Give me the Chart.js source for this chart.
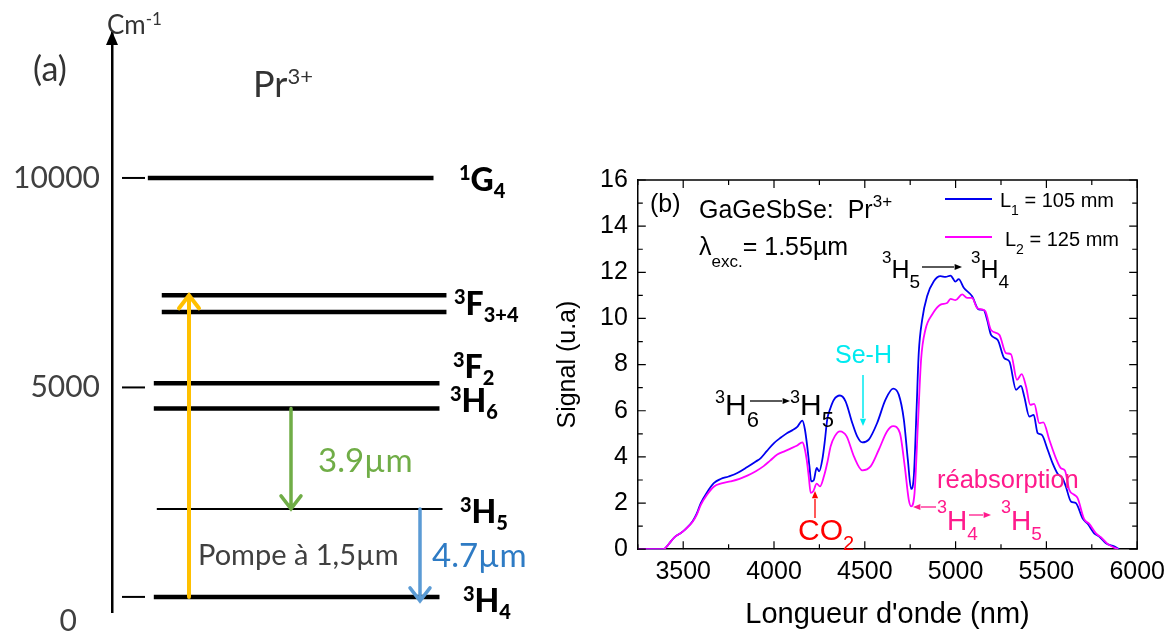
<!DOCTYPE html>
<html>
<head>
<meta charset="utf-8">
<script src="https://cdn.jsdelivr.net/npm/chart.js@4.4.0/dist/chart.umd.min.js"></script>
<style>
  html, body { margin: 0; padding: 0; background: #fff; }
  body { width: 1173px; height: 635px; position: relative; overflow: hidden; }
  #levels-box { position: absolute; left: 0; top: 0; width: 545px; height: 635px; }
  #spectrum-box { position: absolute; left: 545px; top: 0; width: 628px; height: 635px; }
</style>
</head>
<body>
<div id="levels-box"><canvas id="levels-chart"></canvas></div>
<div id="spectrum-box"><canvas id="spectrum-chart"></canvas></div>
<script>
// ---- (a) Pr3+ energy levels, cm-1
const levelNames = ['3H4', '3H5', '3H6', '3F2', '3F3', '3F4', '1G4']
const levelEnergy = [0, 2100, 4500, 5100, 6800, 7200, 10000]
const energyTicks = [0, 5000, 10000]
// pump 3H4 -> 3F3+4, 3H6 -> 3H5, 3H5 -> 3H4
const transFrom = [0, 4500, 2100]
const transTo = [7200, 2100, 0]
const transLabels = ['Pompe à 1,5µm', '3.9µm', '4.7µm']

// ---- (b) emission spectra, wavelength in nm / signal in u.a
const seriesLabels = ['L1 = 105 mm', 'L2 = 125 mm']
const wlL1 = [
    3250, 3390, 3410, 3430, 3450, 3470, 3487, 3510, 3551, 3575,
    3597, 3630, 3670, 3706, 3750, 3798, 3853, 3900, 3927, 3960,
    4000, 4040, 4073, 4100, 4128, 4156, 4170, 4183, 4195, 4205,
    4212, 4220, 4235, 4249, 4266, 4280, 4293, 4310, 4330, 4363,
    4394, 4431, 4458, 4486, 4522, 4568, 4614, 4656, 4687, 4715,
    4737, 4755, 4770, 4785, 4797, 4816, 4843, 4880, 4917, 4945,
    4972, 4999, 5017, 5045, 5091, 5127, 5155, 5175, 5195, 5232,
    5268, 5296, 5333, 5360, 5378, 5406, 5430, 5452, 5474, 5507,
    5534, 5562, 5589, 5607, 5635, 5662, 5699, 5727, 5763, 5791,
    5828, 5873, 5901
]
const sigL1 = [
    0, 0, 0.12, 0.32, 0.5, 0.62, 0.7, 0.85, 1.2, 1.55,
    2.0, 2.45, 2.87, 3.04, 3.15, 3.3, 3.56, 3.8, 3.95, 4.25,
    4.6, 4.85, 5.04, 5.15, 5.3, 5.57, 5.2, 4.46, 3.6, 2.94,
    2.95, 3.01, 3.52, 3.37, 3.88, 4.7, 5.62, 6.1, 6.48, 6.66,
    6.41, 5.47, 4.89, 4.63, 4.75, 5.47, 6.48, 6.96, 6.7, 5.62,
    3.88, 2.61, 3.16, 6.05, 8.5, 9.95, 10.96, 11.61, 11.83, 11.8,
    11.86, 11.6, 11.7, 11.33, 10.96, 10.39, 10.36, 9.9, 9.29, 9.07,
    8.28, 8.14, 6.91, 7.08, 6.62, 5.75, 5.82, 5.03, 4.96, 4.31,
    3.73, 3.27, 3.08, 2.72, 2.07, 2.0, 1.34, 1.1, 0.69, 0.55,
    0.26, 0.12, 0
]
const wlL2 = [
    3250, 3390, 3410, 3430, 3450, 3470, 3487, 3510, 3551, 3575,
    3597, 3630, 3670, 3710, 3761, 3810, 3853, 3900, 3943, 3980,
    4018, 4060, 4091, 4125, 4156, 4168, 4180, 4192, 4202, 4216,
    4235, 4253, 4275, 4295, 4312, 4335, 4363, 4400, 4440, 4486,
    4532, 4577, 4623, 4656, 4693, 4720, 4742, 4755, 4774, 4792,
    4810, 4834, 4871, 4917, 4953, 4972, 4999, 5036, 5063, 5091,
    5118, 5146, 5164, 5195, 5241, 5277, 5305, 5338, 5364, 5388,
    5411, 5433, 5461, 5483, 5516, 5552, 5580, 5602, 5626, 5653,
    5672, 5708, 5736, 5773, 5800, 5837, 5870, 5895
]
const sigL2 = [
    0, 0, 0.12, 0.32, 0.5, 0.62, 0.7, 0.85, 1.18, 1.5,
    1.92, 2.35, 2.72, 2.85, 2.94, 3.05, 3.19, 3.38, 3.6, 3.85,
    4.1, 4.25, 4.36, 4.48, 4.63, 4.4, 3.88, 3.1, 2.44, 2.51,
    2.84, 2.72, 3.16, 3.8, 4.46, 4.9, 5.11, 4.89, 4.02, 3.42,
    3.59, 4.31, 5.11, 5.33, 5.04, 3.59, 2.15, 1.86, 2.44, 5.33,
    8.22, 9.52, 10.17, 10.6, 10.67, 10.85, 10.79, 11.04, 10.89, 10.89,
    10.46, 10.39, 10.31, 9.5, 9.29, 8.5, 8.45, 7.34, 7.59, 7.05,
    6.26, 6.3, 5.46, 5.5, 4.74, 3.95, 3.51, 3.41, 2.57, 2.36,
    2.21, 1.3, 1.1, 0.69, 0.52, 0.23, 0.08, 0
]
const wlTicks = [3500, 4000, 4500, 5000, 5500, 6000]
const sigTicks = [0, 2, 4, 6, 8, 10, 12, 14, 16]

// ---------- drawing helpers
function drawRich(ctx, x, y, parts, f) {
    // parts: [text, 'sup' | 'sub' | undefined]
    ctx.textAlign = 'left'
    ctx.textBaseline = 'alphabetic'
    parts.forEach(([t, kind]) => {
        const size = kind === 'sup' ? f.sup : kind === 'sub' ? f.sub : f.size
        ctx.font = (f.weight || 'normal') + ' ' + size + 'px ' + f.family
        const dy = kind === 'sup' ? -f.raise : kind === 'sub' ? f.drop : 0
        ctx.fillText(t, x, y + dy)
        x += ctx.measureText(t).width
    })
    return x
}

function arrowFilled(ctx, x1, y1, x2, y2, color, w, head) {
    const a = Math.atan2(y2 - y1, x2 - x1)
    ctx.strokeStyle = color
    ctx.fillStyle = color
    ctx.lineWidth = w
    ctx.beginPath()
    ctx.moveTo(x1, y1)
    ctx.lineTo(x2 - Math.cos(a) * head, y2 - Math.sin(a) * head)
    ctx.stroke()
    ctx.beginPath()
    ctx.moveTo(x2, y2)
    ctx.lineTo(x2 - head * Math.cos(a - 0.4), y2 - head * Math.sin(a - 0.4))
    ctx.lineTo(x2 - head * Math.cos(a + 0.4), y2 - head * Math.sin(a + 0.4))
    ctx.closePath()
    ctx.fill()
}

function arrowOpen(ctx, x, y1, y2, color, w) {
    const dir = y2 < y1 ? 1 : -1
    ctx.strokeStyle = color
    ctx.lineWidth = w
    ctx.lineCap = 'round'
    ctx.beginPath()
    ctx.moveTo(x, y1)
    ctx.lineTo(x, y2)
    ctx.moveTo(x - 10, y2 + dir * 13)
    ctx.lineTo(x, y2)
    ctx.lineTo(x + 10, y2 + dir * 13)
    ctx.stroke()
    ctx.lineCap = 'butt'
}

// ---------- panel (a)
const LEVEL_X = [[152, 439], [155, 442], [152, 439], [152, 439], [160, 446], [160, 446], [146, 433]]
const LEVEL_W = [4.5, 2, 4.5, 4.5, 4.5, 4.5, 4.5]
const TRANS_COLORS = ['#ffc000', '#70ad47', '#5b9bd5']
const TRANS_X = [189, 291, 420]
const LEVEL_LABELS = [
    { lvl: 6, x: 459, dy: 13, parts: [['1', 'sup'], ['G'], ['4', 'sub']] },
    { lvl: 4, x: 454, dy: 3, parts: [['3', 'sup'], ['F'], ['3+4', 'sub']] },
    { lvl: 3, x: 453, dy: -5, parts: [['3', 'sup'], ['F'], ['2', 'sub']] },
    { lvl: 2, x: 450, dy: 4, parts: [['3', 'sup'], ['H'], ['6', 'sub']] },
    { lvl: 1, x: 460, dy: 14, parts: [['3', 'sup'], ['H'], ['5', 'sub']] },
    { lvl: 0, x: 463, dy: 15, parts: [['3', 'sup'], ['H'], ['4', 'sub']] }
]
const LEVEL_FONT = { family: 'Lato', weight: '900', size: 32, sup: 20, sub: 20, raise: 11, drop: 7 }

const levelsPlugin = {
    id: 'levelsDecor',
    afterDatasetsDraw(chart) {
        const ctx = chart.ctx
        const y = chart.scales.y
        const area = chart.chartArea
        ctx.save()

        // arrow head of the energy axis
        ctx.strokeStyle = '#000'
        ctx.fillStyle = '#000'
        ctx.beginPath()
        ctx.moveTo(area.left, area.top - 2)
        ctx.lineTo(area.left - 6, area.top + 12)
        ctx.lineTo(area.left + 6, area.top + 12)
        ctx.closePath()
        ctx.fill()

        // small dashes next to the axis
        ctx.lineWidth = 2
        energyTicks.forEach(v => {
            const py = y.getPixelForValue(v)
            ctx.beginPath()
            ctx.moveTo(area.left + 10, py)
            ctx.lineTo(area.left + 33, py)
            ctx.stroke()
        })

        // transitions
        transFrom.forEach((e, i) => {
            const y1 = y.getPixelForValue(e)
            let y2 = y.getPixelForValue(transTo[i])
            if (transTo[i] === 0) y2 += 4
            arrowOpen(ctx, TRANS_X[i], y1, y2, TRANS_COLORS[i], i === 0 ? 4 : 3.5)
        })

        // level names
        ctx.fillStyle = '#000'
        LEVEL_LABELS.forEach(l => {
            drawRich(ctx, l.x, y.getPixelForValue(levelEnergy[l.lvl]) + l.dy, l.parts, LEVEL_FONT)
        })

        // transition texts
        ctx.textBaseline = 'middle'
        ctx.textAlign = 'left'
        ctx.fillStyle = '#404040'
        ctx.font = '29px Lato'
        ctx.fillText(transLabels[0], 198, 556)
        ctx.font = '33px Lato'
        ctx.fillStyle = '#70ad47'
        ctx.fillText(transLabels[1], 318, 461)
        ctx.fillStyle = '#2e7bc4'
        ctx.fillText(transLabels[2], 432, 556)

        // titles
        ctx.fillStyle = '#333'
        ctx.font = '34px Lato'
        ctx.fillText('(a)', 33, 70)
        drawRich(ctx, 253, 97, [['Pr'], ['3+', 'sup']], { family: 'Lato', size: 36, sup: 22, raise: 13 })
        drawRich(ctx, 107, 34, [['Cm'], ['-1', 'sup']], { family: 'Lato', size: 26, sup: 17, raise: 9 })
        ctx.restore()
    }
}

new Chart(document.getElementById('levels-chart'), {
    type: 'line',
    data: {
        datasets: levelNames.map((name, i) => ({
            label: name,
            data: [
                { x: LEVEL_X[i][0], y: levelEnergy[i] },
                { x: LEVEL_X[i][1], y: levelEnergy[i] }
            ],
            borderColor: '#000',
            borderWidth: LEVEL_W[i],
            pointRadius: 0
        }))
    },
    options: {
        animation: false,
        responsive: true,
        maintainAspectRatio: false,
        devicePixelRatio: 1,
        events: [],
        layout: { padding: { left: 1, right: 0, top: 33, bottom: 23 } },
        scales: {
            x: { type: 'linear', display: false, min: 110, max: 545 },
            y: {
                type: 'linear',
                min: -360,
                max: 13460,
                afterBuildTicks: scale => { scale.ticks = energyTicks.map(v => ({ value: v })) },
                afterFit: scale => { scale.paddingTop = 0; scale.paddingBottom = 0 },
                grid: { display: false, drawTicks: false },
                border: { display: true, color: '#000', width: 2.5 },
                ticks: {
                    padding: 12,
                    color: '#404040',
                    font: { family: 'Lato', size: 30, lineHeight: 1.6 },
                    callback: v => v === 0 ? ['', '0   '] : String(v)
                }
            }
        },
        plugins: { legend: { display: false }, tooltip: { enabled: false } }
    },
    plugins: [levelsPlugin]
});

// ---------- panel (b)
const SERIES_COLORS = ['#0000f0', '#ff00ff']
const F25 = { family: 'Liberation Sans', size: 25, sup: 17, sub: 19, raise: 15, drop: 10 }
const F30 = { family: 'Liberation Sans', size: 30, sup: 18, sub: 22, raise: 12, drop: 12 }
const F28 = { family: 'Liberation Sans', size: 28, sup: 18, sub: 19, raise: 17, drop: 10 }
const PINK = '#ff1a8c'

const spectrumPlugin = {
    id: 'spectrumDecor',
    afterDraw(chart) {
        const ctx = chart.ctx
        const { x, y } = chart.scales
        const a = chart.chartArea
        ctx.save()

        // frame on top/right + inward ticks on all sides
        ctx.strokeStyle = '#000'
        ctx.lineWidth = 1.5
        ctx.beginPath()
        ctx.moveTo(a.left, a.top)
        ctx.lineTo(a.right, a.top)
        ctx.lineTo(a.right, a.bottom)
        ctx.stroke()
        ctx.lineWidth = 1.2
        for (let v = 3250; v <= 6000; v += 250) {
            const px = x.getPixelForValue(v)
            const len = v % 500 === 0 ? 8 : 5
            ctx.beginPath()
            ctx.moveTo(px, a.bottom); ctx.lineTo(px, a.bottom - len)
            ctx.moveTo(px, a.top); ctx.lineTo(px, a.top + len)
            ctx.stroke()
        }
        for (let v = 0; v <= 16; v += 1) {
            const py = y.getPixelForValue(v)
            const len = v % 2 === 0 ? 8 : 5
            ctx.beginPath()
            ctx.moveTo(a.left, py); ctx.lineTo(a.left + len, py)
            ctx.moveTo(a.right, py); ctx.lineTo(a.right - len, py)
            ctx.stroke()
        }

        // from here on: page coordinates
        ctx.translate(-545, 0)
        ctx.fillStyle = '#000'
        drawRich(ctx, 650, 212, [['(b)']], F25)
        drawRich(ctx, 699, 218, [['GaGeSbSe:  Pr'], ['3+', 'sup']], { family: 'Liberation Sans', size: 25, sup: 17, raise: 11 })
        drawRich(ctx, 699, 255, [['λ'], ['exc.', 'sub'], ['= 1.55µm']], { family: 'Liberation Sans', size: 25, sub: 17, drop: 12 })

        // legend
        const legY = [199, 237]
        const legTx = [1000, 1005]
        const legBase = [207, 246]
        seriesLabels.forEach((lab, i) => {
            ctx.strokeStyle = SERIES_COLORS[i]
            ctx.lineWidth = 2
            ctx.beginPath()
            ctx.moveTo(945, legY[i]); ctx.lineTo(992, legY[i])
            ctx.stroke()
            ctx.fillStyle = '#000'
            drawRich(ctx, legTx[i], legBase[i], [[lab[0]], [lab[1], 'sub'], [lab.slice(2)]],
                { family: 'Liberation Sans', size: 20, sub: 14, drop: 8 })
        })

        // transitions
        ctx.fillStyle = '#000'
        drawRich(ctx, 882, 278, [['3', 'sup'], ['H'], ['5', 'sub']], F25)
        arrowFilled(ctx, 922, 267, 962, 267, '#000', 1.3, 8)
        ctx.fillStyle = '#000'
        drawRich(ctx, 971, 278, [['3', 'sup'], ['H'], ['4', 'sub']], F25)

        drawRich(ctx, 715, 415, [['3', 'sup'], ['H'], ['6', 'sub']], F30)
        arrowFilled(ctx, 750, 401, 790, 401, '#000', 1.3, 8)
        ctx.fillStyle = '#000'
        drawRich(ctx, 790, 415, [['3', 'sup'], ['H'], ['5', 'sub']], F30)

        // Se-H
        ctx.fillStyle = '#00eaf0'
        drawRich(ctx, 835, 363, [['Se-H']], F25)
        arrowFilled(ctx, 863, 375, 863, 426, '#00eaf0', 1.5, 8)

        // CO2
        ctx.fillStyle = '#ff0000'
        drawRich(ctx, 798, 540, [['CO'], ['2', 'sub']], { family: 'Liberation Sans', size: 30, sub: 20, drop: 10 })
        arrowFilled(ctx, 815, 518, 815, 491, '#ff0000', 1.3, 8)

        // reabsorption
        ctx.fillStyle = PINK
        drawRich(ctx, 937, 488, [['réabsorption']], { family: 'Liberation Sans', size: 25.5 })
        arrowFilled(ctx, 936, 507, 913, 507, PINK, 1.3, 8)
        ctx.fillStyle = PINK
        drawRich(ctx, 937, 530, [['3', 'sup'], ['H'], ['4', 'sub']], F28)
        arrowFilled(ctx, 969, 515, 991, 515, PINK, 1.3, 8)
        ctx.fillStyle = PINK
        drawRich(ctx, 1001, 530, [['3', 'sup'], ['H'], ['5', 'sub']], F28)

        ctx.restore()
    }
}

new Chart(document.getElementById('spectrum-chart'), {
    type: 'line',
    data: {
        datasets: [
            {
                label: seriesLabels[1],
                data: wlL2.map((w, i) => ({ x: w, y: sigL2[i] })),
                borderColor: SERIES_COLORS[1],
                borderWidth: 1.8,
                pointRadius: 0,
                cubicInterpolationMode: 'monotone'
            },
            {
                label: seriesLabels[0],
                data: wlL1.map((w, i) => ({ x: w, y: sigL1[i] })),
                borderColor: SERIES_COLORS[0],
                borderWidth: 1.8,
                pointRadius: 0,
                cubicInterpolationMode: 'monotone'
            }
        ]
    },
    options: {
        animation: false,
        responsive: true,
        maintainAspectRatio: false,
        devicePixelRatio: 1,
        events: [],
        layout: { padding: { left: 4, right: 34, top: 180, bottom: 3 } },
        scales: {
            x: {
                type: 'linear',
                min: 3250,
                max: 6000,
                afterBuildTicks: scale => { scale.ticks = wlTicks.map(v => ({ value: v })) },
                grid: { display: true, drawOnChartArea: false, drawTicks: false },
                border: { display: true, color: '#000', width: 1.5 },
                ticks: {
                    padding: 8,
                    maxRotation: 0,
                    color: '#000',
                    font: { family: 'Liberation Sans', size: 25 },
                    callback: v => String(v)
                },
                title: {
                    display: true,
                    text: "Longueur d'onde (nm)",
                    color: '#000',
                    font: { family: 'Liberation Sans', size: 29 },
                    padding: { top: 2, bottom: 0 }
                }
            },
            y: {
                type: 'linear',
                min: 0,
                max: 16,
                afterBuildTicks: scale => { scale.ticks = sigTicks.map(v => ({ value: v })) },
                grid: { display: true, drawOnChartArea: false, drawTicks: false },
                border: { display: true, color: '#000', width: 1.5 },
                ticks: {
                    padding: 10,
                    color: '#000',
                    font: { family: 'Liberation Sans', size: 25 }
                },
                title: {
                    display: true,
                    text: 'Signal (u.a)',
                    color: '#000',
                    font: { family: 'Liberation Sans', size: 25 },
                    padding: { top: 4, bottom: 7 }
                }
            }
        },
        plugins: { legend: { display: false }, tooltip: { enabled: false } }
    },
    plugins: [spectrumPlugin]
});
</script>
</body>
</html>
